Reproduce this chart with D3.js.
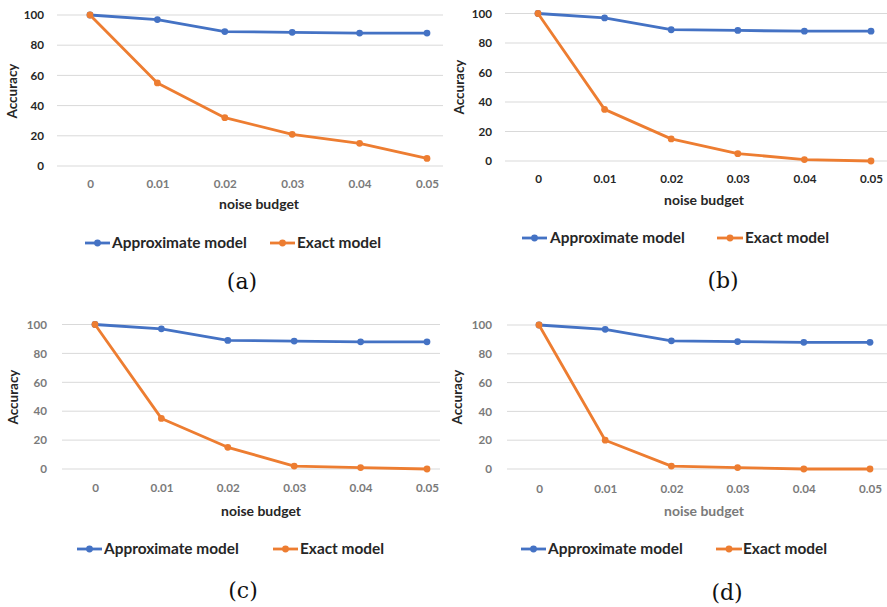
<!DOCTYPE html>
<html><head><meta charset="utf-8">
<script src="https://cdn.jsdelivr.net/npm/d3@7"></script>
<style>body{margin:0;background:#fff}svg{display:block}</style>
</head><body>
<svg id="c" width="887" height="607"></svg>
<script>
// ---- data ----
const xLabels = ["0","0.01","0.02","0.03","0.04","0.05"];
const yTicks = [0,20,40,60,80,100];
const seriesNames = ["Approximate model","Exact model"];
const approxA = [100,97,89,88.5,88,88];
const exactA  = [100,55,32,21,15,5];
const approxB = [100,97,89,88.5,88,88];
const exactB  = [100,35,15,5,1,0];
const approxC = [100,97,89,88.5,88,88];
const exactC  = [100,35,15,2,1,0];
const approxD = [100,97,89,88.5,88,88];
const exactD  = [100,20,2,1,0,0];
const captions = ["(a)","(b)","(c)","(d)"];
const xTitle = "noise budget";
const yTitle = "Accuracy";

// ---- layout / style ----
const colors = ["#4472C4","#ED7D31"];
const dark = "#262626", gray = "#7a7a7a";
const panels = [
  {a:approxA,e:exactA,cap:captions[0],y0:166,y1:15,gx1:57,gx2:443,x0:90,x1:427,xt:184,xtt:[259,204],yr:44,ytt:[12,91],ly:243,lb:[85,110,112],lo:[270,295,297],cp:[242,281],ytc:dark,xtc:gray,xttc:dark},
  {a:approxB,e:exactB,cap:captions[1],y0:161,y1:13.5,gx1:505,gx2:887,x0:538,x1:871,xt:179,xtt:[704,200],yr:492,ytt:[459,87],ly:238,lb:[522,547,550],lo:[717,743,745],cp:[723,280],ytc:dark,xtc:dark,xttc:dark},
  {a:approxC,e:exactC,cap:captions[2],y0:469,y1:324.5,gx1:62,gx2:440,x0:95,x1:427,xt:488,xtt:[261,511],yr:47,ytt:[13,397],ly:549,lb:[77,102,104],lo:[273,298,300],cp:[243,590],ytc:gray,xtc:gray,xttc:dark},
  {a:approxD,e:exactD,cap:captions[3],y0:469,y1:325,gx1:507,gx2:887,x0:539,x1:870,xt:489,xtt:[704,511],yr:492,ytt:[457,397],ly:549,lb:[521,546,548],lo:[716,742,743],cp:[727,592],ytc:gray,xtc:gray,xttc:gray}
];
const sans = "Lato, 'Open Sans', sans-serif";
const serif = "'DejaVu Serif', serif";
const svg = d3.select("#c");

// measure text width at 100px to derive font sizes matching target widths
function fitSize(txt, family, weight, target){
  const t = svg.append("text").attr("font-family",family).attr("font-weight",weight)
    .attr("font-size",100).text(txt);
  const w = t.node().getComputedTextLength(); t.remove();
  return 100*target/w;
}
const fsTick = fitSize("0.01", sans, "bold", 23);
const fsXT = fitSize(xTitle, sans, "bold", 80);
const fsYT = fitSize(yTitle, sans, "bold", 55);
const fsLeg = fitSize(seriesNames[0], sans, "bold", 135);
const fsCap = Math.min(22, fitSize("(a)", serif, "normal", 31));

panels.forEach(p => {
  const g = svg.append("g");
  const y = d3.scaleLinear().domain([0,100]).range([p.y0,p.y1]);
  const x = d3.scalePoint().domain(xLabels).range([p.x0,p.x1]);
  g.append("g").selectAll("line").data(yTicks).join("line")
    .attr("x1",p.gx1).attr("x2",p.gx2)
    .attr("y1",d=>y(d)).attr("y2",d=>y(d))
    .attr("stroke","#d9d9d9").attr("stroke-width",1);
  const ya = g.append("g").attr("transform",`translate(${p.yr},0)`)
    .call(d3.axisLeft(y).tickValues(yTicks).tickSize(0).tickPadding(0));
  ya.select(".domain").remove();
  ya.selectAll("text").attr("font-family",sans).attr("font-weight","bold")
    .attr("font-size",fsTick).attr("fill",p.ytc);
  const xa = g.append("g").attr("transform",`translate(0,${p.xt})`)
    .call(d3.axisBottom(x).tickSize(0).tickPadding(0));
  xa.select(".domain").remove();
  xa.selectAll("text").attr("font-family",sans).attr("font-weight","bold")
    .attr("font-size",fsTick).attr("fill",p.xtc).attr("dy","0.35em");
  g.append("text").attr("x",p.xtt[0]).attr("y",p.xtt[1]).attr("dy","0.35em")
    .attr("text-anchor","middle").attr("font-family",sans).attr("font-weight","bold")
    .attr("font-size",fsXT).attr("fill",p.xttc).text(xTitle);
  g.append("text").attr("transform",`translate(${p.ytt[0]},${p.ytt[1]}) rotate(-90)`)
    .attr("dy","0.35em").attr("text-anchor","middle").attr("font-family",sans)
    .attr("font-weight","bold").attr("font-size",fsYT).attr("fill",dark).text(yTitle);
  const line = d3.line().x((d,i)=>x(xLabels[i])).y(d=>y(d));
  [p.a,p.e].forEach((s,k)=>{
    g.append("path").datum(s).attr("d",line).attr("fill","none")
      .attr("stroke",colors[k]).attr("stroke-width",2.8).attr("stroke-linejoin","round");
    g.append("g").selectAll("circle").data(s).join("circle")
      .attr("cx",(d,i)=>x(xLabels[i])).attr("cy",d=>y(d)).attr("r",3.4).attr("fill",colors[k]);
  });
  [p.lb,p.lo].forEach((L,k)=>{
    g.append("line").attr("x1",L[0]).attr("x2",L[1]).attr("y1",p.ly).attr("y2",p.ly)
      .attr("stroke",colors[k]).attr("stroke-width",2.8);
    g.append("circle").attr("cx",(L[0]+L[1])/2).attr("cy",p.ly).attr("r",3.4).attr("fill",colors[k]);
    g.append("text").attr("x",L[2]).attr("y",p.ly).attr("dy","0.35em")
      .attr("font-family",sans).attr("font-weight","bold").attr("font-size",fsLeg)
      .attr("fill",dark).text(seriesNames[k]);
  });
  g.append("text").attr("x",p.cp[0]).attr("y",p.cp[1]).attr("dy","0.35em")
    .attr("text-anchor","middle").attr("font-family",serif)
    .attr("font-size",fsCap).attr("fill","#111").text(p.cap);
});
</script>
</body></html>
